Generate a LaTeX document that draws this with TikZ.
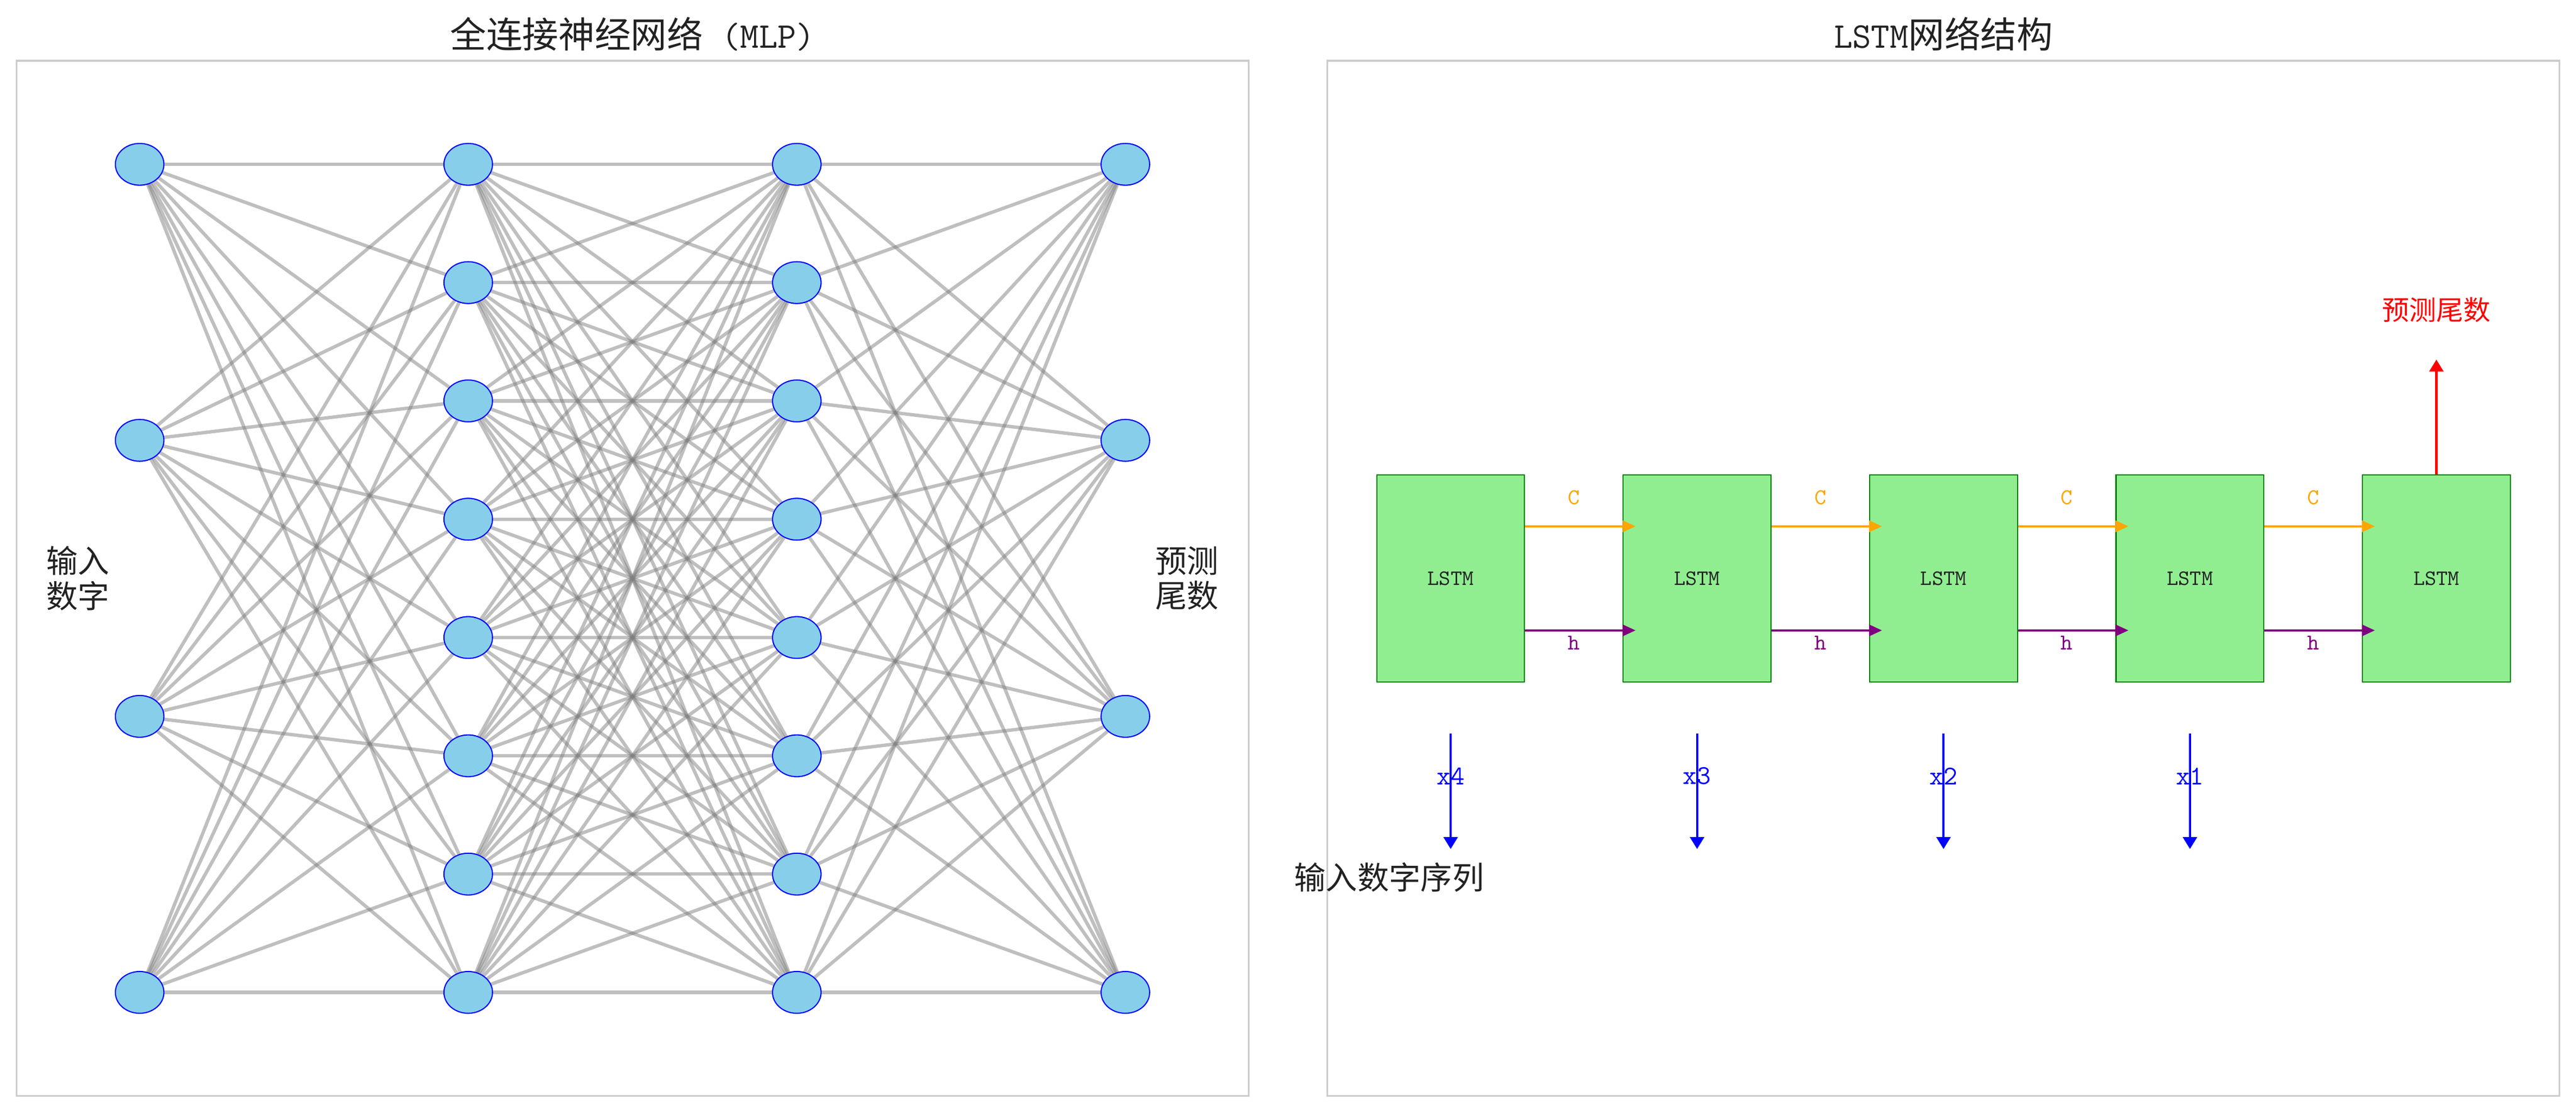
\documentclass[tikz,border=0pt]{standalone}
\usepackage{fontspec}
\newfontfamily\cjk{Noto Sans CJK SC}
\usetikzlibrary{arrows.meta,shapes.geometric,calc}
\pgfdeclarelayer{bg}
\pgfsetlayers{bg,main}
\definecolor{skyblue}{HTML}{87CEEB}
\definecolor{lightgreen}{HTML}{90EE90}
\definecolor{dgreen}{HTML}{008000}
\definecolor{orng}{HTML}{FFA500}
\definecolor{purp}{HTML}{800080}
\definecolor{framegray}{HTML}{CCCCCC}
\definecolor{txt}{HTML}{222222}
\begin{document}
\begin{tikzpicture}[x=0.72735pt,y=-0.72735pt,
  neuron/.style={ellipse,draw=blue,fill=skyblue,line width=0.5pt,inner sep=0pt,
    minimum width=21.5pt,minimum height=18.5pt},
  link/.style={draw=gray,draw opacity=0.5,line width=1.5pt},
  panel/.style={draw=framegray,line width=0.8pt},
  ttl/.style={text=txt,inner sep=0pt,font=\cjk\fontsize{16}{19}\selectfont},
  sidelab/.style={text=txt,inner sep=0pt,align=center,font=\cjk\fontsize{14}{15.5}\selectfont},
  cell/.style={rectangle,draw=dgreen,fill=lightgreen,line width=0.5pt,
    minimum width=65.46pt,minimum height=91.65pt,inner sep=0pt,
    font=\ttfamily\fontsize{9.7}{11}\selectfont,text=txt},
  carrow/.style={draw=orng,line width=0.96pt,-{Triangle[length=5.76pt,width=5pt]},shorten >=-5.76pt},
  harrow/.style={draw=purp,line width=0.96pt,-{Triangle[length=5.76pt,width=5pt]},shorten >=-5.76pt},
  xarrow/.style={draw=blue,line width=1pt,-{Triangle[length=5.3pt,width=6.2pt]}},
  rarrow/.style={draw=red,line width=1pt,-{Triangle[length=5.3pt,width=6.2pt]}},
  clab/.style={text=orng,inner sep=0pt,font=\ttfamily\fontsize{10}{12}\selectfont},
  hlab/.style={text=purp,inner sep=0pt,font=\ttfamily\fontsize{10}{12}\selectfont},
  xlab/.style={text=blue,inner sep=0pt,font=\ttfamily\fontsize{12}{14}\selectfont},
]
\useasboundingbox (0,0) rectangle (1568,677.09);

% ---------- MLP ----------
\foreach \i in {1,...,4} \node[neuron] (a\i) at (85,{100+168*(\i-1)}) {};
\foreach \i in {1,...,8} \node[neuron] (b\i) at (285,{100+72*(\i-1)}) {};
\foreach \i in {1,...,8} \node[neuron] (c\i) at (485,{100+72*(\i-1)}) {};
\foreach \i in {1,...,4} \node[neuron] (d\i) at (685,{100+168*(\i-1)}) {};

\begin{pgfonlayer}{bg}
  \fill[white] (0,0) rectangle (1568,677.09);
  \draw[panel] (10,37) rectangle (760,667);
  \draw[panel] (808,37) rectangle (1558,667);
  \foreach \i in {1,...,4} \foreach \j in {1,...,8} \draw[link] (a\i.center) -- (b\j.center);
  \foreach \i in {1,...,8} \foreach \j in {1,...,8} \draw[link] (b\i.center) -- (c\j.center);
  \foreach \i in {1,...,8} \foreach \j in {1,...,4} \draw[link] (c\i.center) -- (d\j.center);
\end{pgfonlayer}

\node[ttl] (t1) at (385,20.6) {全连接神经网络{\ttfamily\ (MLP)}};
\node[sidelab] (inlab) at (47.3,352) {输入\\数字};
\node[sidelab] (outlab) at (722.6,352) {预测\\尾数};

% ---------- LSTM ----------
\node[ttl] (t2) at (1183,20.6) {{\ttfamily LSTM}网络结构};
\foreach \i in {1,...,5} \node[cell] (l\i) at ({883+150*(\i-1)},352) {LSTM};

\foreach \i/\j in {1/2,2/3,3/4,4/5} {
  \draw[carrow] ($(l\i.north east)!0.25!(l\i.south east)$) -- ($(l\j.north west)!0.25!(l\j.south west)$);
  \draw[harrow] ($(l\i.north east)!0.75!(l\i.south east)$) -- ($(l\j.north west)!0.75!(l\j.south west)$);
  \node[clab] (cl\i) at ({958+150*(\i-1)},302.8) {C};
  \node[hlab] (hl\i) at ({958+150*(\i-1)},391.3) {h};
}

\foreach \i/\n in {1/4,2/3,3/2,4/1} {
  \coordinate (xs\i) at ($(l\i.south)+(0,31)$);
  \coordinate (xe\i) at ($(l\i.south)+(0,101.4)$);
  \draw[xarrow] (xs\i) -- (xe\i);
  \node[xlab] (xl\i) at ({883+150*(\i-1)},472.4) {x\n};
}
\node[sidelab] (seqlab) at (845.5,534) {输入数字序列};

\coordinate (outtip) at ($(l5.north)+(0,-69.8)$);
\draw[rarrow] (l5.north) -- (outtip);
\node[text=red,inner sep=0pt,font=\cjk\fontsize{12}{14}\selectfont] (predlab) at (1483,188.5) {预测尾数};
\end{tikzpicture}
\end{document}
